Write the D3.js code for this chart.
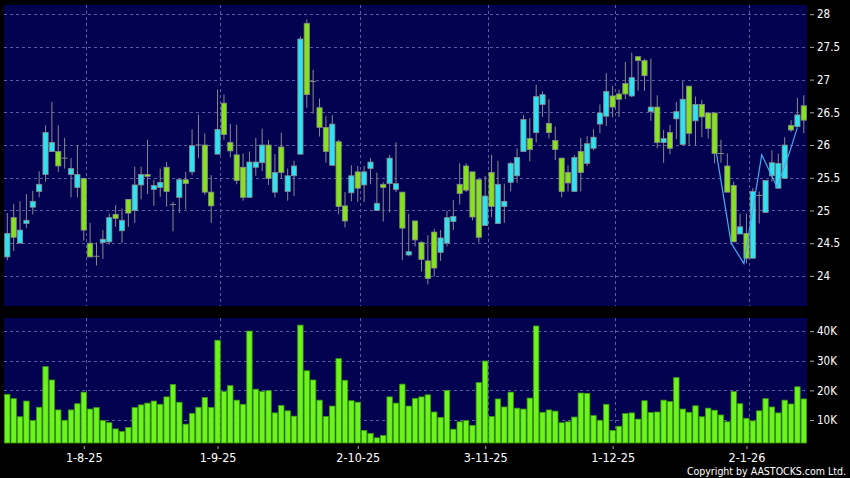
<!DOCTYPE html>
<html>
<head>
<meta charset="utf-8">
<script src="https://cdn.jsdelivr.net/npm/d3@7"></script>
<style>
html,body{margin:0;padding:0;background:#000;}
svg{display:block;}
</style>
</head>
<body>
<svg id="chart" width="850" height="478"></svg>
<script>
// ---- data ----
const open  = [24.29,24.89,24.50,24.80,25.05,25.29,25.55,25.90,25.90,25.80,25.55,25.35,25.49,24.50,24.30,24.51,24.52,24.94,24.69,25.17,
               25.00,25.39,25.55,25.32,25.35,25.66,25.09,25.20,25.47,25.59,26.00,26.00,25.28,25.86,26.64,26.04,25.85,25.66,25.20,25.66,
               25.73,26.00,25.28,25.97,25.29,25.53,25.86,27.86,26.97,26.57,26.27,25.69,26.05,25.07,25.27,25.59,25.39,25.64,25.00,25.40,
               25.41,25.32,25.28,24.32,24.84,24.51,24.23,24.67,24.36,24.50,24.83,25.40,25.68,25.59,25.47,24.77,25.58,24.80,25.06,25.43,
               25.53,25.90,26.10,26.19,26.62,26.33,26.07,25.80,25.58,25.29,25.90,25.72,25.95,26.32,26.44,26.75,26.78,26.94,26.75,27.35,
               27.29,26.51,26.58,26.04,26.19,26.40,26.01,26.90,26.37,26.62,26.49,26.49,25.87,25.68,25.38,24.64,24.65,24.27,25.23,24.97,
               25.53,25.34,25.49,26.30,26.28,26.60];
const high  = [24.96,25.10,25.14,25.25,25.30,25.60,26.30,26.66,26.30,26.11,25.80,26.00,25.50,24.81,24.51,24.70,24.95,25.08,25.03,25.17,
               25.67,25.67,26.08,25.47,25.64,25.74,25.13,25.49,25.59,26.24,26.46,26.18,25.54,26.85,26.77,26.32,26.31,25.87,25.90,26.11,
               26.25,26.08,25.86,26.19,25.64,25.76,27.66,27.92,27.15,26.71,26.44,26.46,26.08,25.28,25.69,25.68,25.68,25.80,25.58,25.43,
               25.85,26.04,25.28,24.95,24.84,24.53,24.62,24.72,24.70,25.00,25.16,25.72,25.72,25.59,25.47,25.53,25.85,25.76,25.41,25.74,
               25.95,26.46,26.41,26.92,26.82,26.70,26.28,25.80,25.69,25.85,26.11,26.14,26.24,26.62,27.10,26.90,26.85,27.27,27.41,27.35,
               27.32,27.32,26.76,26.23,26.31,26.66,26.98,26.90,26.74,26.69,26.49,26.49,26.08,25.87,25.44,24.95,24.95,25.34,25.29,25.46,
               25.92,25.87,26.12,26.38,26.72,26.76];
const low   = [24.24,24.38,24.50,24.73,24.94,25.20,25.44,25.90,25.59,25.64,25.20,25.20,24.54,24.29,24.16,24.26,24.48,24.75,24.50,24.75,
               24.81,25.17,25.25,25.07,25.21,25.06,24.68,24.96,25.02,25.54,25.80,25.24,24.81,25.86,26.08,25.81,25.40,25.15,25.20,25.53,
               25.60,25.39,25.20,25.49,25.15,25.22,25.86,26.57,26.48,26.13,25.73,25.69,24.94,24.74,25.14,25.13,25.13,25.40,25.00,24.83,
               24.97,25.28,24.24,24.30,24.45,24.07,23.87,23.99,24.23,24.45,24.70,25.09,25.28,24.85,24.51,24.77,24.90,24.80,24.81,25.29,
               25.42,25.90,25.75,26.04,26.43,26.10,25.77,25.20,25.29,25.29,25.29,25.68,25.92,26.18,26.29,26.42,26.43,26.70,26.73,26.83,
               26.83,26.37,25.95,25.73,25.86,26.09,26.00,26.00,26.00,26.12,26.10,25.72,25.73,25.28,24.52,24.64,24.19,24.27,24.80,24.97,
               25.44,25.34,25.49,26.20,26.28,26.18];
const close = [24.65,24.59,24.70,24.85,25.14,25.40,26.19,26.04,25.68,25.80,25.64,25.55,24.70,24.29,24.30,24.56,24.89,24.88,24.85,24.96,
               25.39,25.55,25.52,25.38,25.43,25.29,25.09,25.47,25.41,25.99,26.00,25.28,25.07,26.24,26.16,25.91,25.46,25.20,25.74,25.74,
               26.00,25.49,25.58,25.58,25.53,25.68,27.62,26.77,26.97,26.27,25.90,26.32,25.06,24.84,25.53,25.34,25.59,25.74,25.11,25.35,
               25.80,25.41,24.73,24.37,24.55,24.25,23.96,24.12,24.58,24.89,24.91,25.26,25.31,24.90,24.59,25.22,25.06,25.40,25.14,25.72,
               25.81,26.39,25.93,26.74,26.77,26.19,25.93,25.29,25.42,25.81,25.58,26.02,26.12,26.49,26.82,26.58,26.70,26.78,27.03,27.29,
               27.06,26.58,26.04,26.10,25.95,26.51,26.70,26.18,26.62,26.43,26.25,25.87,25.87,25.28,24.52,24.75,24.27,25.29,25.23,25.46,
               25.73,25.72,26.00,26.23,26.46,26.38];
const volume = [18.65,17.2,11.1,16.4,9.8,14.3,28.0,23.5,13.4,9.9,13.4,15.5,19.4,13.7,14.2,9.8,9.1,7.0,6.1,7.5,
                14.2,15.1,15.7,16.4,15.3,17.8,22.0,16.0,8.6,12.2,14.3,17.6,14.2,36.9,19.6,21.6,16.7,15.3,40.0,20.4,
                19.6,19.9,12.4,14.9,13.1,11.3,42.0,26.6,23.5,16.7,11.2,14.7,30.7,23.4,16.5,16.0,6.5,5.5,4.0,4.8,
                17.8,15.7,22.1,14.7,17.3,17.8,18.5,12.7,10.9,20.0,6.9,9.4,9.8,8.2,22.6,29.9,11.2,17.1,14.4,19.4,
                14.0,13.7,17.4,41.7,12.6,13.4,13.0,9.1,9.4,11.0,19.1,19.0,11.5,9.9,15.3,6.5,7.9,12.2,12.4,10.3,
                16.5,12.5,12.7,16.7,16.2,24.3,13.7,12.6,14.8,11.1,14.0,13.3,11.7,9.4,19.6,15.5,10.6,9.7,13.1,17.2,
                14.4,12.4,16.7,15.4,21.2,17.1]; // thousands
const tickLabels = ["1-8-25","1-9-25","2-10-25","3-11-25","1-12-25","2-1-26"];
const tickIdx    = [12,33,55,75,95,116];
const priceTicks = [24,24.5,25,25.5,26,26.5,27,27.5,28];
const volTicks   = [10,20,30,40];
const lineIdx = [111.3,113.6,115.6,118.4,120.8,122.8,124.0];
const lineVal = [25.87,24.50,24.19,25.85,25.36,25.90,26.27];

// ---- drawing ----
const svg = d3.select("#chart");
const W = 850, H = 478;
const plotL = 4, plotR = 807;
const pTop = 5, pBot = 306, vTop = 318, vBot = 443;
const FONT = "'DejaVu Sans Condensed','DejaVu Sans',sans-serif";

const data = open.map((o,i)=>({i, o, h:high[i], l:low[i], c:close[i], v:volume[i]}));

const x = d3.scaleLinear().domain([0, data.length-1]).range([7.3, 803.8]);
const y = d3.scaleLinear().domain([23.54, 28.14]).range([pBot, pTop]);
const yv = d3.scaleLinear().domain([2.25, 44.4]).range([vBot, vTop]);

svg.append("rect").attr("width", W).attr("height", H).attr("fill", "#000");
svg.append("rect").attr("x", plotL).attr("y", pTop).attr("width", plotR-plotL).attr("height", pBot-pTop).attr("fill", "#020250");
svg.append("rect").attr("x", plotL).attr("y", vTop).attr("width", plotR-plotL).attr("height", vBot-vTop).attr("fill", "#020250");

const gridColor = "#5c5ca0";
// horizontal grid
svg.append("g").selectAll("line").data(priceTicks).join("line")
  .attr("x1", plotL).attr("x2", plotR)
  .attr("y1", d=>Math.round(y(d))+0.5).attr("y2", d=>Math.round(y(d))+0.5)
  .attr("stroke", gridColor).attr("stroke-dasharray", "3,3");
svg.append("g").selectAll("line").data(volTicks).join("line")
  .attr("x1", plotL).attr("x2", plotR)
  .attr("y1", d=>Math.round(yv(d))+0.5).attr("y2", d=>Math.round(yv(d))+0.5)
  .attr("stroke", gridColor).attr("stroke-dasharray", "3,3");
// vertical grid
[[pTop,pBot],[vTop,vBot]].forEach(([a,b])=>{
  svg.append("g").selectAll("line").data(tickIdx).join("line")
    .attr("x1", d=>Math.round(x(d)+2.6)+0.5).attr("x2", d=>Math.round(x(d)+2.6)+0.5)
    .attr("y1", a).attr("y2", b)
    .attr("stroke", gridColor).attr("stroke-dasharray", "3,3");
});

const cyan = "#2de3f2", green = "#86e21c", edge = "#8a8a8a";
// candles
const cg = svg.append("g");
cg.selectAll("line.wick").data(data).join("line").attr("class","wick")
  .attr("x1", d=>x(d.i)).attr("x2", d=>x(d.i))
  .attr("y1", d=>y(d.h)).attr("y2", d=>y(d.l))
  .attr("stroke", edge).attr("stroke-width", 1);
const bodies = data.filter(d=>d.o!==d.c);
cg.selectAll("rect.body").data(bodies).join("rect").attr("class","body")
  .attr("x", d=>x(d.i)-2.6).attr("width", 5.2)
  .attr("y", d=>y(Math.max(d.o,d.c)))
  .attr("height", d=>Math.max(1, Math.abs(y(d.o)-y(d.c))))
  .attr("fill", d=>d.c>d.o ? cyan : green)
  .attr("stroke", edge).attr("stroke-width", 0.8);
const dojis = data.filter(d=>d.o===d.c);
cg.selectAll("line.doji").data(dojis).join("line").attr("class","doji")
  .attr("x1", d=>x(d.i)-3).attr("x2", d=>x(d.i)+3)
  .attr("y1", d=>y(d.c)).attr("y2", d=>y(d.c))
  .attr("stroke", edge).attr("stroke-width", 1);

// overlay line
const lineData = lineIdx.map((t,k)=>[t, lineVal[k]]);
svg.append("path").datum(lineData)
  .attr("d", d3.line().x(d=>x(d[0])).y(d=>y(d[1])))
  .attr("fill","none").attr("stroke","#45a8ee").attr("stroke-width",1.2);

// volume bars
svg.append("g").selectAll("rect").data(data).join("rect")
  .attr("x", d=>x(d.i)-2.7).attr("width", 5.4)
  .attr("y", d=>yv(d.v)).attr("height", d=>vBot-yv(d.v))
  .attr("fill", "#6cf41c").attr("stroke", "#3a9a10").attr("stroke-width", 0.8);

// axes
function styleAxis(g){
  g.select(".domain").remove();
  g.selectAll(".tick line").attr("stroke", "#aaaaaa");
  g.selectAll(".tick text").attr("fill", "#ffffff").attr("font-family", FONT);
}
svg.append("g").attr("transform", `translate(810,0)`)
  .call(d3.axisRight(y).tickValues(priceTicks).tickSize(4).tickPadding(3).tickFormat(d=>String(d)))
  .call(styleAxis)
  .selectAll("text").attr("font-size", "11.5px");
svg.append("g").attr("transform", `translate(810,0)`)
  .call(d3.axisRight(yv).tickValues(volTicks).tickSize(4).tickPadding(3).tickFormat(d=>d+"K"))
  .call(styleAxis)
  .selectAll("text").attr("font-size", "11.5px");
svg.append("g").attr("transform", `translate(0,446)`)
  .call(d3.axisBottom(x).tickValues(tickIdx).tickSize(3).tickPadding(4).tickFormat((d,k)=>tickLabels[k]))
  .call(styleAxis)
  .selectAll("text").attr("font-size", "12.5px");

svg.append("text").attr("x", 846).attr("y", 475).attr("text-anchor","end")
  .attr("fill","#ffffff").attr("font-family", FONT).attr("font-size","10.5px")
  .text("Copyright by AASTOCKS.com Ltd.");
</script>
</body>
</html>
